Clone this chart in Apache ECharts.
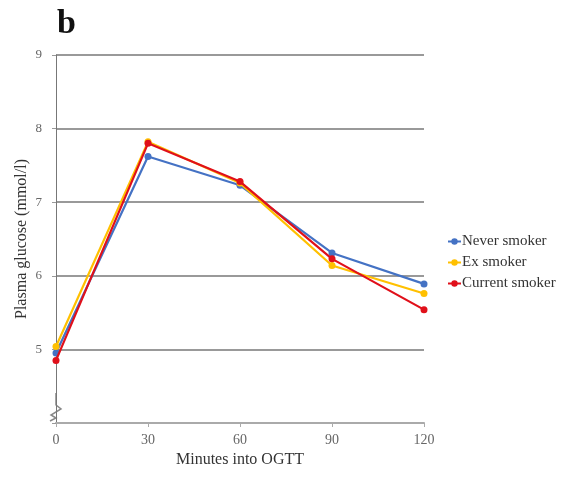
<!DOCTYPE html>
<html><head><meta charset="utf-8">
<script src="https://cdn.jsdelivr.net/npm/echarts@6/dist/echarts.min.js"></script>
<style>html,body{margin:0;padding:0;background:#fff}#c{width:569px;height:477px}</style>
</head><body><div id="c"></div>
<script>
const minutes = [0, 30, 60, 90, 120];
const seriesNames = ['Never smoker', 'Ex smoker', 'Current smoker'];
const neverSmoker = [4.95, 7.62, 7.23, 6.31, 5.89];
const exSmoker = [5.04, 7.82, 7.26, 6.14, 5.76];
const currentSmoker = [4.85, 7.80, 7.28, 6.23, 5.54];
const yTicks = [5, 6, 7, 8, 9];
const colors = ['#4472C4', '#FFC000', '#E0101A'];

const chart = echarts.init(document.getElementById('c'), null, {renderer: 'canvas'});
const font = '"Liberation Serif", "DejaVu Serif", serif';
const mk = (vals) => minutes.map((m, i) => [m, vals[i]]);
const data = [neverSmoker, exSmoker, currentSmoker];
chart.setOption({
  animation: false,
  textStyle: {fontFamily: font},
  title: {text: 'b', left: 52, top: 2, textStyle: {fontFamily: font, fontSize: 34, fontWeight: 'bold', color: '#111'}},
  grid: {left: 56, right: 145, top: 55, bottom: 54},
  legend: {
    orient: 'vertical', left: 442, top: 229, itemGap: 6, itemWidth: 13, itemHeight: 8,
    data: seriesNames,
    textStyle: {fontFamily: font, fontSize: 15, color: '#333', padding: [0, 0, 0, -4]}
  },
  xAxis: {
    type: 'value', min: 0, max: 120, interval: 30,
    name: 'Minutes into OGTT', nameLocation: 'middle', nameGap: 29,
    nameTextStyle: {fontFamily: font, fontSize: 16, color: '#333'},
    axisLine: {lineStyle: {color: '#aaa', width: 2}},
    axisTick: {show: true, inside: false, length: 4, lineStyle: {color: '#aaa'}},
    axisLabel: {fontFamily: font, fontSize: 14, color: '#666', margin: 10},
    splitLine: {show: false}
  },
  yAxis: {
    type: 'value', min: 4, max: 9, interval: 1,
    name: 'Plasma glucose (mmol/l)', nameLocation: 'middle', nameGap: 26,
    nameMoveOverlap: false,
    nameTextStyle: {fontFamily: font, fontSize: 16, color: '#333'},
    axisLine: {show: true, lineStyle: {color: '#777', width: 1}},
    axisTick: {show: true, length: 4, lineStyle: {color: '#999'}},
    axisLabel: {fontFamily: font, fontSize: 13, color: '#666', margin: 14,
      formatter: v => yTicks.includes(v) ? String(v) : ''},
    splitLine: {show: true, lineStyle: {color: '#999', width: 2}, showMinLine: false}
  },
  series: seriesNames.map((n, i) => ({
    name: n, type: 'line', data: mk(data[i]), color: colors[i],
    symbol: 'circle', symbolSize: 7, lineStyle: {width: 2.2},
    z: 2 + i
  }))
});

// axis break zigzag near the bottom of y axis
const p0 = chart.convertToPixel({gridIndex: 0}, [0, 4]);
const bx = p0[0], by = p0[1];
chart.setOption({
  graphic: [{
    type: 'polyline', silent: true,
    shape: {points: [[bx, by - 30], [bx, by - 18], [bx + 5, by - 14], [bx - 5, by - 8], [bx, by - 5], [bx - 6, by - 2]]},
    style: {stroke: '#888', lineWidth: 1.5, fill: null}
  }]
});
</script>
</body></html>
